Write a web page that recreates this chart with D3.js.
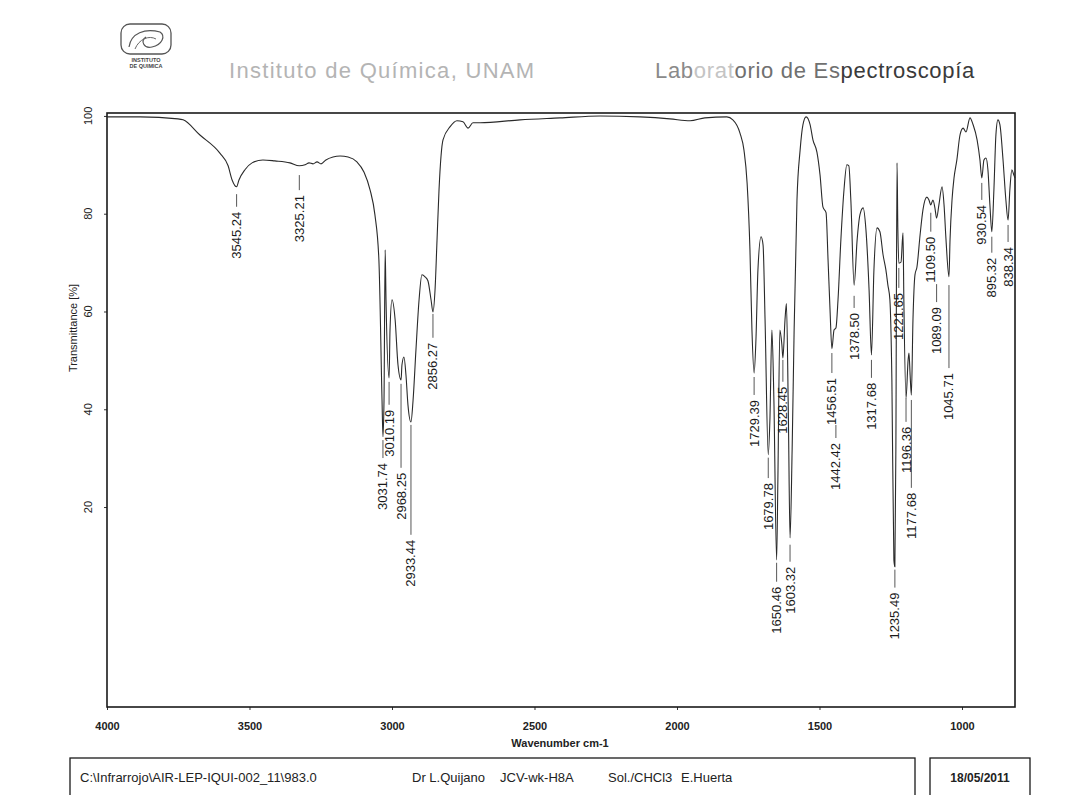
<!doctype html>
<html>
<head>
<meta charset="utf-8">
<title>IR spectrum</title>
<style>
  body { margin: 0; background: #fff; }
  svg text { font-family: "Liberation Sans", Arial, sans-serif; }
</style>
</head>
<body>
<svg id="chart" width="1078" height="795"></svg>
<script src="https://d3js.org/d3.v7.min.js"></script>
<script>
// spectrum (wavenumber cm-1, transmittance %)
const wavenumber = [4000,3884,3751,3733,3674,3604,3575,3561,3545.24,3537,3516,3491,3453,3411,3358,3325.21,3305,3291,3277,3263,3249,3232,3207,3182,3154,3123,3098,3077,3060,3046,3035,3031.74,3028,3024,3021,3010.19,3007,3000,2989,2979,2968.25,2965,2958,2951,2944,2933.44,2926,2916,2905,2895,2884,2874,2863,2856.27,2849,2842,2835,2821,2796,2772,2751,2733,2716,2691,2551,2411,2270,2130,2025,1954,1902,1825,1804,1779,1765,1754,1744,1737,1729.39,1723,1716,1705,1698,1691,1679.78,1674,1667,1660,1650.46,1646,1639,1632,1628.45,1621,1616,1609,1603.32,1596,1589,1579,1568,1558,1547,1533,1523,1509,1498,1488,1477,1470,1463,1456.51,1449,1442.42,1435,1425,1414,1404,1397,1390,1378.50,1368,1358,1347,1337,1326,1317.68,1309,1298,1288,1277,1267,1260,1253,1246,1239,1235.49,1232,1228,1225,1221.65,1214,1207,1204,1196.36,1189,1186,1182,1177.68,1172,1165,1158,1147,1137,1123,1116,1109.50,1102,1095,1089.09,1081,1070,1063,1056,1045.71,1042,1035,1028,1018,1007,996,986,972,961,947,937,930.54,923,916,909,902,895.32,888,881,874,867,856,846,838.34,832,825,818,814];
const transmittance = [99.8,99.8,99.4,99.2,96.1,92.4,89.8,86.9,85.5,86.9,89.0,90.4,91.0,90.8,90.4,89.8,90.0,90.4,90.2,90.6,90.2,91.0,91.6,91.8,91.6,90.6,88.5,84.9,79.8,70.6,41.9,34.4,41.9,72.6,62.4,46.4,56.2,62.4,58.3,49.1,46.0,49.1,50.7,47.0,40.9,37.4,41.9,52.1,62.4,67.5,67.1,66.3,62.4,59.9,64.4,74.6,84.9,95.1,97.8,99.0,98.8,97.5,98.6,98.6,99.2,99.6,100.0,99.8,99.4,99.0,99.6,99.8,99.2,96.5,93.0,86.3,72.6,56.2,47.4,54.2,68.5,75.3,73.6,58.3,30.7,37.8,56.2,41.9,9.2,25.6,56.2,53.2,50.5,58.3,61.6,37.8,13.7,31.7,56.2,82.8,93.0,98.2,99.8,98.2,95.1,92.6,87.9,81.4,80.2,70.6,60.3,52.4,56.2,56.6,62.4,74.6,84.9,90.0,89.8,82.8,65.4,74.6,79.8,81.2,76.7,64.4,51.1,68.5,77.1,76.3,71.6,68.5,65.4,62.4,46.0,9.2,7.8,31.7,90.4,76.7,69.9,70.1,76.1,62.4,42.3,50.1,51.5,47.0,42.9,58.3,67.5,69.1,75.7,80.8,83.4,82.8,81.8,82.8,81.2,79.1,81.8,85.5,81.8,74.6,67.1,74.6,82.8,87.3,91.0,96.1,97.5,96.7,99.6,98.2,95.1,91.0,87.3,91.0,91.4,89.0,81.8,76.3,84.9,96.1,99.2,98.2,91.0,82.8,78.7,84.9,89.0,87.9,87.3];

// peak picks: label, where its dash starts and where its text begins (in % T)
const peakLabels = ["3545.24","3325.21","3031.74","3010.19","2968.25","2933.44","2856.27","1729.39","1679.78","1650.46","1628.45","1603.32","1456.51","1442.42","1378.50","1317.68","1235.49","1221.65","1196.36","1177.68","1109.50","1089.09","1045.71","930.54","895.32","838.34"];
const peakLineT = [84.0,87.9,33.7,45.6,45.2,36.8,59.5,46.6,30.1,8.6,50.1,12.3,51.5,36.8,63.2,50.1,7.2,68.9,42.3,41.9,80.2,65.6,65.4,86.3,75.3,77.7];
const peakTextT = [80.4,83.8,29.0,39.9,27.0,13.3,53.6,41.9,24.9,3.7,44.6,7.8,46.4,33.1,59.7,45.4,2.5,63.8,36.4,22.9,75.3,60.9,47.4,81.8,71.0,73.2];

const xTicks = [4000,3500,3000,2500,2000,1500,1000];
const yTicks = [20,40,60,80,100];

const footerItems = ["C:\\Infrarrojo\\AIR-LEP-IQUI-002_11\\983.0","Dr L.Quijano","JCV-wk-H8A","Sol./CHCl3","E.Huerta"];
const footerDate = "18/05/2011";

const svg = d3.select("#chart");
const plot = {left: 107, right: 1015, top: 113, bottom: 707};

const x = d3.scaleLinear().domain([4000, 814]).range([plot.left, plot.right]);
const y = d3.scaleLinear().domain([-20.9, 100.6]).range([plot.bottom, plot.top]);

// ---- header ----
const logo = svg.append("g").attr("transform", "translate(121,24)");
logo.append("rect").attr("x", 0).attr("y", 0).attr("width", 50).attr("height", 30)
  .attr("rx", 9).attr("fill", "none").attr("stroke", "#555").attr("stroke-width", 1.3);
logo.append("path").attr("d", "M8,23 C10,9 24,4 39,8 C45,12 41,21 31,23 C23,25 19,17 25,13")
  .attr("fill", "none").attr("stroke", "#555").attr("stroke-width", 1.2);
logo.append("path").attr("d", "M14,25 C18,15 28,11 35,15")
  .attr("fill", "none").attr("stroke", "#666").attr("stroke-width", 1);
logo.append("text").attr("x", 25).attr("y", 38).attr("text-anchor", "middle")
  .attr("font-size", "5.5px").attr("font-weight", "bold").attr("fill", "#444").text("INSTITUTO");
logo.append("text").attr("x", 25).attr("y", 44).attr("text-anchor", "middle")
  .attr("font-size", "5.5px").attr("font-weight", "bold").attr("fill", "#444").text("DE QUIMICA");

svg.append("text").attr("x", 229).attr("y", 78)
  .attr("font-size", "22px").attr("letter-spacing", "1.3px").attr("fill", "#b4b4b4")
  .text("Instituto de Química, UNAM");

const lab = svg.append("text").attr("x", 655).attr("y", 78)
  .attr("font-size", "22px").attr("letter-spacing", "0.7px");
lab.append("tspan").attr("fill", "#8a8a8a").text("Lab");
lab.append("tspan").attr("fill", "#c4c4c4").text("orat");
lab.append("tspan").attr("fill", "#707070").text("orio de Es");
lab.append("tspan").attr("fill", "#3a3a3a").text("pectroscopía");

// ---- axes ----
svg.append("g")
  .attr("transform", "translate(" + plot.left + ",0)")
  .call(d3.axisLeft(y).tickValues(yTicks).tickSize(3).tickFormat(""))
  .call(g => g.select(".domain").remove())
  .call(g => g.selectAll("line").attr("stroke", "#333"));

svg.append("g").selectAll("text")
  .data(yTicks)
  .enter()
  .append("text")
  .attr("transform", d => "translate(88," + y(d) + ") rotate(-90)")
  .attr("text-anchor", "middle")
  .attr("dominant-baseline", "central")
  .attr("font-size", "11px")
  .attr("fill", "#222")
  .text(d => d);

svg.append("text")
  .attr("transform", "translate(73,328) rotate(-90)")
  .attr("text-anchor", "middle")
  .attr("dominant-baseline", "central")
  .attr("font-size", "11px")
  .attr("fill", "#222")
  .text("Transmittance [%]");

svg.append("g")
  .attr("transform", "translate(0," + plot.bottom + ")")
  .call(d3.axisBottom(x).tickValues(xTicks).tickSize(3).tickPadding(12).tickFormat(d3.format("d")))
  .call(g => g.select(".domain").remove())
  .call(g => g.selectAll("line").attr("stroke", "#333"))
  .call(g => g.selectAll("text")
    .attr("font-size", "11px").attr("font-weight", "bold").attr("fill", "#222")
    .attr("font-family", "'Liberation Sans', Arial, sans-serif"));

svg.append("text")
  .attr("x", 560).attr("y", 747)
  .attr("text-anchor", "middle")
  .attr("font-size", "11px")
  .attr("font-weight", "bold")
  .attr("fill", "#222")
  .text("Wavenumber cm-1");

// plot frame
svg.append("rect")
  .attr("x", plot.left).attr("y", plot.top)
  .attr("width", plot.right - plot.left).attr("height", plot.bottom - plot.top)
  .attr("fill", "none").attr("stroke", "#1a1a1a").attr("stroke-width", 1.6);

// ---- spectrum ----
const spectrum = wavenumber.map((w, i) => ({w: w, t: transmittance[i]}));
const line = d3.line()
  .x(d => x(d.w))
  .y(d => y(d.t))
  .curve(d3.curveMonotoneX);

svg.append("path")
  .datum(spectrum)
  .attr("d", line)
  .attr("fill", "none")
  .attr("stroke", "#2a2a2a")
  .attr("stroke-width", 1.1);

// ---- peak labels ----
const peaks = peakLabels.map((p, i) => ({label: p, w: parseFloat(p), lineT: peakLineT[i], textT: peakTextT[i]}));

svg.append("g").selectAll("line")
  .data(peaks)
  .enter()
  .append("line")
  .attr("x1", d => x(d.w)).attr("x2", d => x(d.w))
  .attr("y1", d => y(d.lineT))
  .attr("y2", d => y(d.textT) - 5)
  .attr("stroke", "#444")
  .attr("stroke-width", 0.9);

svg.append("g").selectAll("text")
  .data(peaks)
  .enter()
  .append("text")
  .attr("transform", d => "translate(" + x(d.w) + "," + y(d.textT) + ") rotate(-90)")
  .attr("text-anchor", "end")
  .attr("dominant-baseline", "central")
  .attr("font-size", "13px")
  .attr("fill", "#1a1a1a")
  .text(d => d.label);

// ---- footer ----
svg.append("rect").attr("x", 70).attr("y", 758).attr("width", 845).attr("height", 50)
  .attr("fill", "none").attr("stroke", "#1a1a1a").attr("stroke-width", 1.3);
svg.append("rect").attr("x", 930).attr("y", 758).attr("width", 100).attr("height", 50)
  .attr("fill", "none").attr("stroke", "#1a1a1a").attr("stroke-width", 1.3);

const footerX = [80, 412, 500, 608, 681];
svg.append("g").selectAll("text")
  .data(footerItems)
  .enter()
  .append("text")
  .attr("x", (d, i) => footerX[i])
  .attr("y", 782)
  .attr("font-size", "13px")
  .attr("fill", "#222")
  .text(d => d);

svg.append("text").attr("x", 980).attr("y", 782)
  .attr("text-anchor", "middle")
  .attr("font-size", "12px").attr("font-weight", "bold").attr("fill", "#222")
  .text(footerDate);
</script>
</body>
</html>
